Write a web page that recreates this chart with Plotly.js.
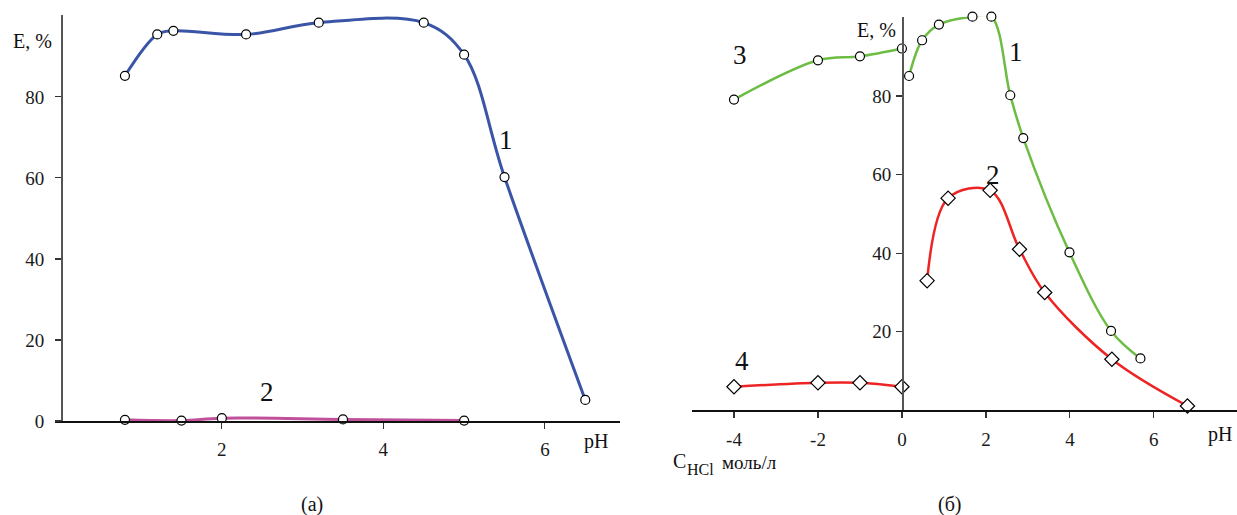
<!DOCTYPE html>
<html>
<head>
<meta charset="utf-8">
<script src="https://cdn.plot.ly/plotly-3.0.1.min.js"></script>
<style>html,body{margin:0;padding:0;background:#fff;}#chart{width:1237px;height:515px;}</style>
</head>
<body>
<div id="chart"></div>
<script>
// Panel (а): E, % vs pH
const phA1 = [0.8, 1.2, 1.4, 2.3, 3.2, 4.5, 5.0, 5.5, 6.5];
const eA1  = [85.2, 95.4, 96.3, 95.4, 98.3, 98.3, 90.4, 60.2, 5.2];
const phA2 = [0.8, 1.5, 2.0, 3.5, 5.0];
const eA2  = [0.3, 0.1, 0.7, 0.4, 0.1];

// Panel (б): curves 1,2 vs pH; curves 3,4 vs C(HCl)
const phB1 = [0.17, 0.48, 0.88, 1.68, 2.13, 2.58, 2.89, 3.99, 4.98, 5.68];
const eB1  = [85.1, 94.2, 98.2, 100.2, 100.2, 80.2, 69.3, 40.2, 20.2, 13.2];
const phB2 = [0.6, 1.1, 2.1, 2.8, 3.4, 5.0, 6.8];
const eB2  = [33.0, 54.0, 56.0, 41.0, 30.0, 13.0, 1.1];
const cB3  = [-4, -2, -1, 0];
const eB3  = [79.1, 89.1, 90.1, 92.1];
const cB4  = [-4, -2, -1, 0];
const eB4  = [6.0, 7.0, 7.0, 6.0];

const tickA_x = [2, 4, 6];
const tickA_y = [0, 20, 40, 60, 80];
const tickB_x = [-4, -2, 0, 2, 4, 6];
const tickB_xText = ['-4', '-2', '0', '2', '4', '6'];
const tickB_y = [20, 40, 60, 80];

const W = 1237, H = 515;
const serif = "'Liberation Serif', 'Times New Roman', serif";
const circ = {symbol: 'circle', size: 9, color: '#fff', line: {color: '#000', width: 1.2}};
const diam = {symbol: 'diamond', size: 11, color: '#fff', line: {color: '#000', width: 1.2}};

function tr(x, y, color, w, marker, xa, ya) {
  return {x: x, y: y, xaxis: xa, yaxis: ya, type: 'scatter', mode: 'lines+markers',
    line: {color: color, width: w, shape: 'spline', smoothing: 1}, marker: marker,
    cliponaxis: false, hoverinfo: 'skip'};
}

const data = [
  tr(phA1, eA1, '#3a55a8', 3, circ, 'x', 'y'),
  tr(phA2, eA2, '#c0509a', 3, circ, 'x', 'y'),
  tr(phB1, eB1, '#6dbd45', 2.5, circ, 'x2', 'y2'),
  tr(phB2, eB2, '#ee2424', 2.5, diam, 'x2', 'y2'),
  tr(cB3, eB3, '#6dbd45', 2.5, circ, 'x2', 'y2'),
  tr(cB4, eB4, '#ee2424', 2.5, diam, 'x2', 'y2')
];

const tickFont = {family: serif, size: 19, color: '#1a1a1a'};
const axBase = {showgrid: false, zeroline: false, ticks: 'outside', ticklen: 6, tickwidth: 1.2,
  tickcolor: '#333', tickfont: tickFont, fixedrange: true, automargin: false};

function ann(text, px, py, size, xanchor) {
  return {text: text, x: px / W, y: 1 - py / H, xref: 'paper', yref: 'paper',
    xanchor: xanchor || 'center', yanchor: 'middle', showarrow: false,
    font: {family: serif, size: size, color: '#111'}};
}

const layout = {
  width: W, height: H, margin: {l: 0, r: 0, t: 0, b: 0},
  paper_bgcolor: '#fff', plot_bgcolor: 'rgba(0,0,0,0)', showlegend: false,
  xaxis: Object.assign({}, axBase, {domain: [55 / W, 620 / W], range: [-0.066, 6.93], anchor: 'y',
    tickvals: tickA_x, showline: true, linecolor: '#111', linewidth: 1.5, ticklabelstandoff: 5}),
  yaxis: Object.assign({}, axBase, {domain: [(H - 421) / H, (H - 15) / H], range: [0, 100.2],
    anchor: 'free', position: 61 / W, tickvals: tickA_y, showline: true, linecolor: '#555',
    linewidth: 1.5, ticklabelstandoff: 7}),
  xaxis2: Object.assign({}, axBase, {domain: [692 / W, 1], range: [-5.0, 7.98], anchor: 'y2',
    tickvals: tickB_x, ticktext: tickB_xText, showline: true, linecolor: '#111', linewidth: 1.5,
    ticklabelstandoff: 5}),
  yaxis2: Object.assign({}, axBase, {domain: [(H - 410.3) / H, (H - 16.7) / H], range: [0, 100.2],
    anchor: 'free', position: 902 / W, tickvals: tickB_y, showline: true, linecolor: '#555',
    linewidth: 1.5, ticklabelstandoff: 1}),
  annotations: [
    ann('E, %', 32, 41, 20),
    ann('pH', 596, 441, 20),
    ann('(а)', 312, 504, 20),
    ann('1', 506, 140, 27),
    ann('2', 267, 392, 27),
    ann('E, %', 876, 30, 20),
    ann('pH', 1220, 434, 20),
    ann('C', 671, 461, 20, 'left'),
    ann('HCl', 685, 469, 16, 'left'),
    ann('моль/л', 720, 462, 19, 'left'),
    ann('(б)', 950, 504, 20),
    ann('3', 740, 55, 27),
    ann('1', 1016, 52, 27),
    ann('2', 993, 175, 27),
    ann('4', 742, 361, 27)
  ]
};

Plotly.newPlot('chart', data, layout, {displayModeBar: false, staticPlot: true});
</script>
</body>
</html>
